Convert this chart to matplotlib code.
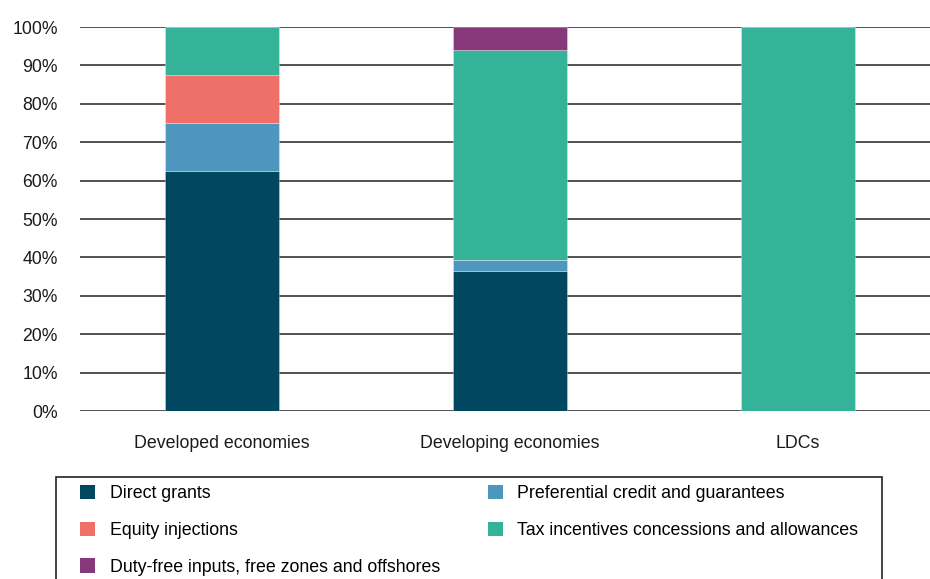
import matplotlib.pyplot as plt
from matplotlib.patches import Rectangle, Patch
import numpy as np

plt.rcParams['font.family'] = ['Liberation Sans', 'DejaVu Sans']

categories = ["Developed economies", "Developing economies", "LDCs"]
direct_grants = [62.5, 36.4, 0.0]
preferential_credit = [12.5, 3.0, 0.0]
equity_injections = [12.5, 0.0, 0.0]
tax_incentives = [12.5, 54.5, 100.0]
duty_free = [0.0, 6.1, 0.0]
y_ticks = list(range(0, 101, 10))
y_tick_labels = [f"{v}%" for v in y_ticks]

series = [
    ("Direct grants", direct_grants, "#00475F"),
    ("Preferential credit and guarantees", preferential_credit, "#4F96BE"),
    ("Equity injections", equity_injections, "#EF7068"),
    ("Tax incentives concessions and allowances", tax_incentives, "#34B398"),
    ("Duty-free inputs, free zones and offshores", duty_free, "#87387A"),
]

W, H = 930, 579
fig = plt.figure(figsize=(W / 100, H / 100), dpi=100)
ax = fig.add_axes([80 / W, (H - 411) / H, (W - 80) / W, (411 - 27) / H])

x = np.arange(len(categories))
bottom = np.zeros(len(categories))
handles = {}
for name, vals, color in series:
    vals = np.asarray(vals)
    ax.bar(x, vals, width=0.396, bottom=bottom, color=color,
           edgecolor=(1, 1, 1, 0.35), linewidth=0.6, zorder=3)
    handles[name] = Patch(facecolor=color, edgecolor='none')
    bottom += vals

ax.set_xlim(-142 / 288, -142 / 288 + 850 / 288)
ax.set_ylim(0, 100)
ax.set_yticks(y_ticks)
ax.set_yticklabels(y_tick_labels)
ax.set_xticks(x)
ax.set_xticklabels(categories)
ax.tick_params(axis='y', length=0, pad=16, labelsize=12.7, labelcolor='#1a1a1a')
ax.tick_params(axis='x', length=0, pad=17, labelsize=12.8, labelcolor='#1a1a1a')
for s in ax.spines.values():
    s.set_visible(False)
ax.yaxis.grid(True, color='#222222', linewidth=1.1)
ax.set_axisbelow(True)

# legend frame
fig.patches.append(Rectangle((56 / W, -0.05), (882 - 56) / W, (H - 477) / H + 0.05,
                             transform=fig.transFigure, fill=False,
                             edgecolor='#222222', linewidth=1.2))

order = ["Direct grants", "Equity injections",
         "Duty-free inputs, free zones and offshores",
         "Preferential credit and guarantees",
         "Tax incentives concessions and allowances"]
fig.legend([handles[n] for n in order], order, ncol=2, frameon=False,
           loc='upper left', bbox_to_anchor=(80 / W, (H - 485) / H),
           borderaxespad=0, borderpad=0, fontsize=12.8,
           handlelength=0.84, handleheight=0.84, handletextpad=0.84,
           labelspacing=1.1, columnspacing=2.67)

fig.savefig("out.png", dpi=100)
